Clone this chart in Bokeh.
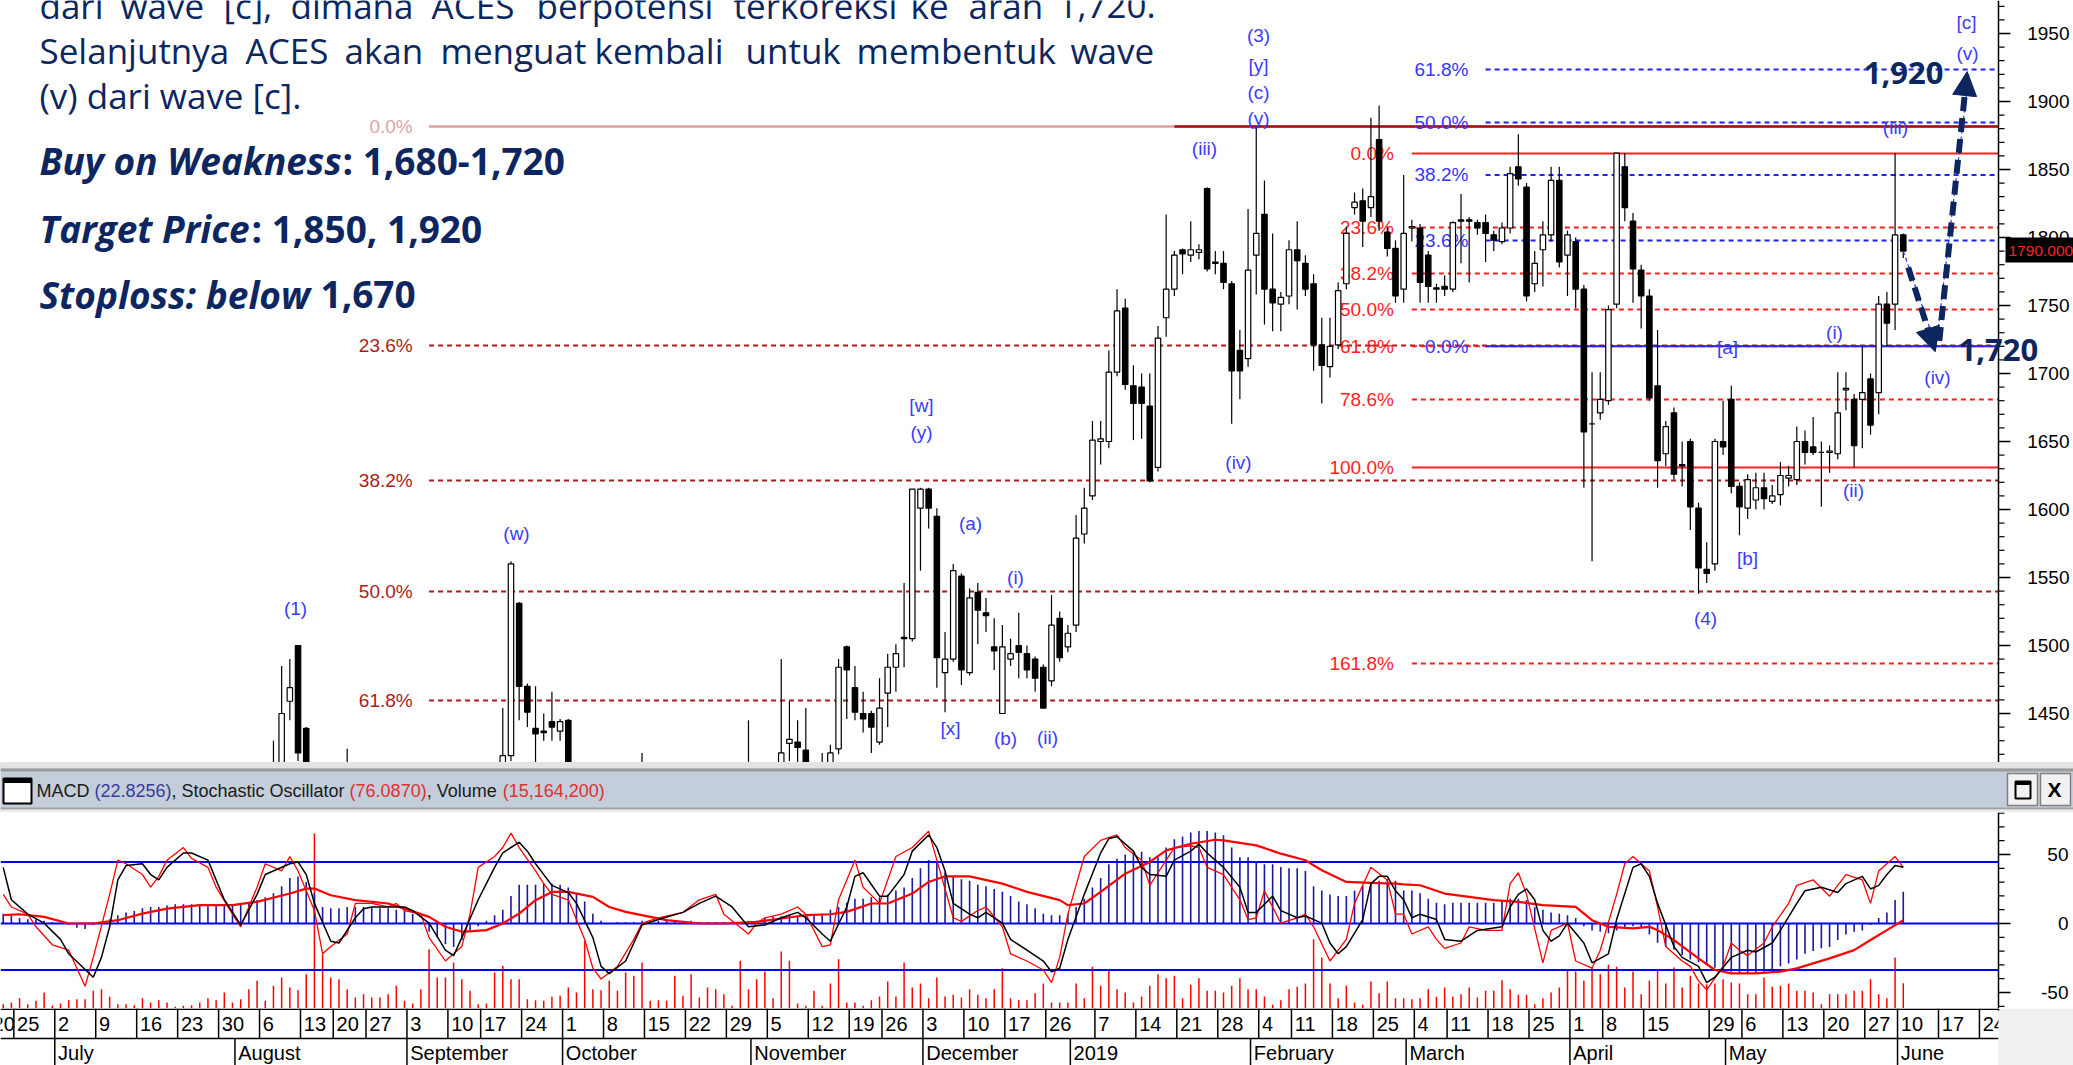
import pandas as pd
from bokeh.plotting import figure
from bokeh.models import Range1d, Arrow, NormalHead
from bokeh.layouts import column
from bokeh.embed import file_html
from bokeh.resources import INLINE
from bokeh.core.properties import value

# ---------------------------------------------------------------- calendar
HOLIDAYS = ["2018-08-17", "2018-08-22", "2018-09-11", "2018-11-20", "2018-12-24", "2018-12-25",
            "2018-12-31", "2019-01-01", "2019-02-05", "2019-03-07", "2019-04-03", "2019-04-17",
            "2019-04-19", "2019-05-01", "2019-05-30", "2019-06-03", "2019-06-04", "2019-06-05",
            "2019-06-06", "2019-06-07"]
CAL = [d.strftime("%Y-%m-%d") for d in pd.bdate_range("2018-06-20", "2019-06-28")]
CAL = [d for d in CAL if d not in HOLIDAYS]
DAY = {d: k for k, d in enumerate(CAL)}

day_ticks = ["2018-06-20", "2018-06-25", "2018-07-02", "2018-07-09", "2018-07-16", "2018-07-23",
             "2018-07-30", "2018-08-06", "2018-08-13", "2018-08-20", "2018-08-27", "2018-09-03",
             "2018-09-10", "2018-09-17", "2018-09-24", "2018-10-01", "2018-10-08", "2018-10-15",
             "2018-10-22", "2018-10-29", "2018-11-05", "2018-11-12", "2018-11-19", "2018-11-26",
             "2018-12-03", "2018-12-10", "2018-12-17", "2018-12-26", "2019-01-07", "2019-01-14",
             "2019-01-21", "2019-01-28", "2019-02-04", "2019-02-11", "2019-02-18", "2019-02-25",
             "2019-03-04", "2019-03-11", "2019-03-18", "2019-03-25", "2019-04-01", "2019-04-08",
             "2019-04-15", "2019-04-29", "2019-05-06", "2019-05-13", "2019-05-20", "2019-05-27",
             "2019-06-10", "2019-06-17", "2019-06-24"]
month_ticks = ["2018-07-02", "2018-08-01", "2018-09-03", "2018-10-01", "2018-11-01", "2018-12-03",
               "2019-01-02", "2019-02-01", "2019-03-01", "2019-04-01", "2019-05-02", "2019-06-10"]
month_names = ["July", "August", "September", "October", "November", "December", "2019",
               "February", "March", "April", "May", "June"]

# ---------------------------------------------------------------- price candles (trading-day number)
c_day = [34, 35, 36, 37, 38, 43, 62, 63, 64, 65, 66, 67, 68, 69, 70, 79, 92] + list(range(96, 234))
c_open = [1400, 1400, 1459, 1500, 1439, 1400, 1400, 1419, 1531, 1470, 1439, 1437, 1444, 1437, 1445, 1400, 1395,
          1400, 1428, 1429, 1423, 1405, 1400, 1405, 1424, 1499, 1469,
          1450, 1450, 1429, 1465, 1484, 1505, 1505, 1601, 1615, 1595,
          1480, 1490, 1551, 1480, 1539, 1524, 1499, 1450, 1490, 1500,
          1494, 1490, 1484, 1474, 1520, 1499, 1515, 1582, 1610, 1650,
          1650, 1701, 1748, 1691, 1690, 1676, 1631, 1741, 1762, 1791,
          1787, 1789, 1836, 1782, 1781, 1766, 1717, 1711, 1787, 1817,
          1762, 1751, 1757, 1791, 1781, 1766, 1721, 1705, 1721, 1766,
          1822, 1827, 1822, 1872, 1804, 1792, 1762, 1807, 1807, 1787,
          1763, 1764, 1762, 1812, 1813, 1811, 1811, 1802, 1797, 1807,
          1852, 1837, 1766, 1791, 1802, 1842, 1787, 1797, 1762, 1663,
          1671, 1680, 1751, 1852, 1812, 1776, 1757, 1691, 1641, 1671,
          1633, 1650, 1601, 1556, 1560, 1650, 1681, 1617, 1601, 1607,
          1616, 1606, 1611, 1623, 1622, 1650, 1646, 1642, 1642, 1641,
          1688, 1681, 1681, 1696, 1686, 1751, 1751, 1802]
c_high = [1430, 1485, 1490, 1500, 1440, 1424, 1454, 1562, 1532, 1472, 1470, 1450, 1466, 1446, 1446, 1421, 1445,
          1490, 1459, 1445, 1454, 1410, 1421, 1427, 1490, 1500, 1485,
          1466, 1452, 1476, 1494, 1501, 1546, 1615, 1616, 1616, 1601,
          1510, 1560, 1553, 1542, 1546, 1535, 1520, 1515, 1505, 1524,
          1500, 1492, 1486, 1537, 1525, 1515, 1596, 1616, 1665, 1665,
          1717, 1762, 1755, 1706, 1700, 1700, 1735, 1817, 1790, 1792,
          1812, 1795, 1837, 1790, 1790, 1768, 1732, 1821, 1882, 1842,
          1803, 1760, 1798, 1812, 1787, 1773, 1741, 1741, 1767, 1808,
          1833, 1836, 1888, 1897, 1808, 1798, 1846, 1813, 1810, 1790,
          1766, 1772, 1812, 1832, 1815, 1813, 1817, 1805, 1811, 1852,
          1876, 1840, 1790, 1812, 1852, 1852, 1805, 1800, 1765, 1701,
          1701, 1750, 1862, 1862, 1818, 1780, 1762, 1732, 1665, 1675,
          1650, 1652, 1605, 1576, 1652, 1680, 1691, 1620, 1626, 1627,
          1627, 1618, 1635, 1632, 1661, 1658, 1668, 1650, 1647, 1701,
          1701, 1685, 1720, 1700, 1757, 1760, 1862, 1803]
c_low = [1390, 1395, 1445, 1415, 1390, 1395, 1395, 1415, 1445, 1440, 1405, 1430, 1430, 1430, 1400, 1395, 1390,
         1395, 1415, 1410, 1400, 1395, 1395, 1400, 1420, 1446, 1445,
         1436, 1421, 1427, 1440, 1466, 1484, 1503, 1555, 1586, 1469,
         1451, 1488, 1471, 1478, 1501, 1510, 1482, 1450, 1485, 1476,
         1476, 1466, 1454, 1470, 1488, 1495, 1510, 1575, 1607, 1633,
         1645, 1698, 1688, 1651, 1652, 1620, 1628, 1727, 1757, 1773,
         1782, 1784, 1775, 1773, 1762, 1663, 1681, 1705, 1758, 1736,
         1731, 1731, 1751, 1747, 1757, 1702, 1678, 1697, 1718, 1762,
         1817, 1793, 1815, 1805, 1786, 1752, 1752, 1797, 1752, 1752,
         1752, 1757, 1760, 1781, 1767, 1802, 1782, 1790, 1795, 1803,
         1838, 1753, 1760, 1764, 1797, 1778, 1757, 1748, 1616, 1562,
         1666, 1677, 1748, 1812, 1752, 1733, 1680, 1616, 1632, 1622,
         1617, 1585, 1538, 1546, 1555, 1640, 1612, 1581, 1593, 1600,
         1600, 1604, 1603, 1617, 1618, 1633, 1640, 1602, 1627, 1637,
         1673, 1631, 1645, 1655, 1670, 1720, 1732, 1785]
c_close = [1405, 1450, 1469, 1421, 1400, 1405, 1419, 1560, 1470, 1451, 1435, 1436, 1440, 1444, 1405, 1405, 1400,
           1421, 1431, 1425, 1405, 1400, 1405, 1421, 1484, 1482, 1451,
           1446, 1440, 1454, 1484, 1494, 1506, 1615, 1615, 1601, 1491,
           1490, 1555, 1482, 1535, 1526, 1522, 1496, 1499, 1494, 1495,
           1482, 1476, 1454, 1515, 1491, 1509, 1579, 1601, 1651, 1652,
           1701, 1746, 1692, 1678, 1678, 1621, 1726, 1762, 1787, 1788,
           1791, 1791, 1777, 1781, 1767, 1702, 1702, 1776, 1803, 1762,
           1752, 1756, 1791, 1783, 1762, 1721, 1706, 1720, 1761, 1803,
           1826, 1812, 1830, 1812, 1792, 1757, 1803, 1808, 1767, 1764,
           1762, 1762, 1811, 1813, 1812, 1807, 1803, 1798, 1807, 1847,
           1843, 1757, 1781, 1802, 1842, 1782, 1802, 1762, 1657, 1663,
           1681, 1747, 1862, 1822, 1777, 1757, 1682, 1636, 1661, 1626,
           1632, 1602, 1557, 1553, 1650, 1646, 1617, 1602, 1622, 1616,
           1608, 1610, 1625, 1625, 1650, 1642, 1642, 1642, 1643, 1671,
           1689, 1647, 1686, 1662, 1751, 1737, 1802, 1790]
last_close = 1790

# ---------------------------------------------------------------- Fibonacci levels (price)
left_fib_levels = [1881.6, 1720.6, 1621.3, 1539.7, 1459.6]
left_fib_labels = ["0.0%", "23.6%", "38.2%", "50.0%", "61.8%"]
left_fib_start = 53
left_fib_top_dark_start = 144
red_fib_levels = [1861.8, 1807.4, 1773.5, 1747.0, 1720.0, 1680.9, 1630.9, 1486.8]
red_fib_labels = ["0.0%", "23.6%", "38.2%", "50.0%", "61.8%", "78.6%", "100.0%", "161.8%"]
red_fib_solid = [True, False, False, False, False, False, True, False]
red_fib_start = 173
blue_fib_levels = [1923.5, 1884.6, 1846.0, 1797.8, 1720.0]
blue_fib_labels = ["61.8%", "50.0%", "38.2%", "23.6%", "0.0%"]
blue_fib_solid = [False, False, False, False, True]
blue_fib_start = 182

# projection path: last close -> wave (iv) target -> wave (v) target
proj_day = [233, 237, 241]
proj_val = [1790, 1720, 1920]

# ---------------------------------------------------------------- indicator values
ind_day = list(range(1, 234))
macd_hist = [7, 6, 4, 3, 3, 2, 1, 0, -1, -3,
             -4, -1, 1, 3, 6, 8, 9, 11, 12, 12,
             13, 14, 14, 14, 14, 14, 14, 14, 14, 14,
             15, 17, 19, 22, 27, 33, 34, 30, 22, 12,
             11, 11, 12, 12, 12, 12, 11, 11, 10, 9,
             7, 1, -6, -10, -15, -17, -12, -5, -2, 2,
             6, 10, 20, 28, 28, 28, 29, 29, 28, 26,
             22, 16, 7, 2, 0, 1, 1, 1, 2, 2,
             2, 2, 2, 2, 2, 1, 1, 1, 1, 1,
             1, 2, 2, 4, 5, 5, 6, 6, 6, 6,
             7, 10, 12, 15, 18, 18, 19, 19, 21, 24,
             26, 33, 40, 46, 44, 37, 34, 32, 31, 28,
             27, 25, 23, 20, 16, 14, 11, 7, 6, 6,
             7, 12, 18, 26, 33, 43, 47, 50, 52, 52,
             48, 48, 55, 61, 63, 66, 67, 67, 66, 64,
             55, 48, 48, 45, 43, 43, 41, 40, 40, 38,
             27, 24, 21, 20, 20, 24, 27, 30, 31, 32,
             31, 24, 24, 22, 18, 15, 14, 15, 15, 15,
             15, 15, 15, 17, 18, 18, 17, 12, 10, 8,
             7, 6, 4, -2, -5, -6, -7, -5, -4, -2,
             -3, -8, -14, -17, -19, -23, -26, -28, -30, -32,
             -34, -35, -36, -36, -36, -35, -33, -31, -29, -26,
             -22, -20, -18, -17, -12, -8, -6, -5, -1, 4,
             8, 17, 23]
volume_m = [2.6, 3.6, 6.2, 2.6, 4.6, 9.6, 1.6, 3.0, 5.0, 5.6,
            5.6, 10.6, 11.6, 7.0, 2.6, 2.6, 2.0, 6.2, 3.6, 5.0,
            3.6, 1.0, 1.6, 2.0, 3.6, 6.2, 5.0, 9.6, 3.6, 5.6,
            11.6, 16.6, 4.6, 13.6, 18.6, 12.6, 11.0, 20.6, 105, 32.6,
            18.6, 17.6, 11.6, 6.6, 8.6, 6.6, 6.6, 8.6, 13.6, 4.6,
            3.0, 11.6, 35.6, 18.6, 18.6, 27.6, 17.6, 10.6, 2.6, 3.0,
            21.6, 25.6, 17.6, 17.6, 5.6, 5.0, 4.6, 7.0, 7.6, 12.6,
            9.6, 40.6, 11.6, 11.0, 16.6, 10.6, 21.6, 19.6, 27.6, 4.6,
            5.0, 4.6, 19.6, 7.6, 20.6, 6.6, 12.6, 11.6, 8.6, 1.6,
            28.6, 11.6, 17.6, 22.2, 6.2, 34.2, 28.6, 3.0, 1.6, 10.6,
            1.6, 15.0, 29.6, 3.6, 3.6, 1.6, 5.0, 7.2, 16.2, 7.2,
            27.6, 12.6, 15.0, 6.2, 18.6, 7.2, 8.2, 6.6, 11.6, 8.2,
            6.2, 11.6, 24.2, 6.2, 5.0, 5.0, 9.2, 15.0, 3.6, 3.6,
            3.6, 15.0, 6.2, 25.0, 13.6, 23.6, 11.6, 9.6, 3.6, 7.2,
            13.6, 20.6, 18.2, 19.6, 6.2, 14.2, 18.2, 10.6, 10.6, 9.6,
            13.6, 18.2, 11.6, 11.6, 7.2, 2.2, 5.0, 11.6, 13.0, 15.0,
            41.6, 30.6, 15.0, 6.2, 13.6, 3.6, 2.2, 16.2, 9.2, 16.2,
            6.2, 6.2, 5.6, 6.2, 11.6, 7.0, 12.6, 7.0, 8.6, 12.6,
            6.6, 10.6, 10.6, 17.0, 11.6, 8.2, 8.2, 2.6, 6.2, 9.6,
            12.6, 23.6, 22.2, 16.6, 24.6, 20.6, 26.2, 25.0, 12.6, 22.2,
            8.6, 16.6, 23.6, 15.0, 24.6, 12.6, 19.6, 15.0, 14.6, 15.0,
            17.6, 15.6, 15.0, 8.6, 8.6, 18.6, 13.0, 13.6, 15.0, 10.6,
            10.6, 9.6, 2.6, 8.6, 8.6, 8.6, 10.6, 10.6, 17.6, 8.6,
            6.2, 30.6, 15.2]
sig_day = [1, 3, 6, 9, 12, 15, 18, 21, 25, 29, 32, 36, 38, 39, 41, 44, 48, 50, 53, 55,
           57, 60, 62, 64, 66, 68, 70, 73, 75, 77, 80, 82, 86, 89, 93, 96, 99, 102, 104, 107,
           109, 112, 114, 116, 119, 123, 126, 130, 131, 133, 135, 138, 141, 143, 146, 149, 150, 154, 157, 160,
           162, 165, 168, 171, 172, 174, 177, 180, 183, 186, 189, 193, 195, 197, 200, 202, 203, 205, 208, 210,
           212, 215, 218, 220, 222, 224, 227, 229, 231, 233]
sig_val = [6.0, 6.7, 4.8, 0, 0, 2.4, 7.2, 10.8, 13.3, 13.3, 15.7, 21.7, 25.3, 25.3, 20.5, 16.9, 14.5, 10.8, 4.8, -2.4,
           -6.0, -4.8, 0, 7.2, 16.9, 22.9, 22.9, 19.3, 12.0, 8.4, 4.8, 2.4, 0, 0, 1.2, 3.6, 6.0, 6.7, 8.4, 14.5,
           14.5, 21.7, 30.1, 34.2, 34.2, 28.9, 22.9, 16.9, 13.3, 14.5, 22.9, 36.1, 44.6, 53.0, 57.8, 60.7, 60.2, 56.6, 50.6, 45.8,
           38.6, 30.1, 29.4, 28.9, 28.4, 27.7, 21.7, 19.3, 16.9, 15.7, 13.3, 12.0, 2.4, -2.4, -3.6, -2.4, -4.8, -12.0, -25.3, -33.7,
           -36.1, -36.1, -34.9, -32.5, -28.9, -25.3, -19.3, -12.0, -4.8, 2.4]
stoch_d_day = [1, 2, 4, 6, 8, 9, 12, 13, 14, 15,
               16, 18, 19, 20, 21, 23, 24, 26, 27, 28,
               30, 32, 33, 36, 37, 38, 39, 41, 42, 44,
               45, 46, 48, 50, 51, 53, 55, 56, 57, 59,
               61, 62, 64, 65, 66, 68, 70, 71, 73, 74,
               75, 77, 78, 79, 81, 84, 86, 88, 90, 92,
               94, 96, 98, 99, 101, 102, 104, 105, 106, 108,
               109, 111, 112, 114, 115, 116, 117, 119, 120, 121,
               123, 124, 126, 128, 129, 130, 131, 133, 135, 136,
               137, 139, 140, 141, 143, 144, 146, 147, 148, 150,
               152, 153, 154, 156, 157, 159, 160, 162, 163, 164,
               165, 167, 168, 169, 170, 171, 172, 173, 174, 176,
               177, 179, 181, 184, 185, 186, 187, 188, 189, 190,
               191, 192, 194, 195, 197, 198, 200, 201, 202, 203,
               205, 206, 208, 209, 210, 212, 214, 215, 217, 218,
               220, 221, 223, 225, 226, 228, 229, 230, 231, 232,
               233]
stoch_d_val = [77, 59, 51, 46, 37, 29, 16, 27, 44, 70,
               78, 79, 73, 70, 77, 85, 85, 81, 70, 59,
               45, 62, 73, 79, 80, 73, 57, 36, 35, 49,
               54, 55, 55, 55, 53, 46, 31, 28, 38, 59,
               77, 85, 91, 86, 79, 67, 63, 57, 38, 22,
               18, 25, 35, 45, 48, 52, 57, 61, 55, 44,
               45, 49, 52, 49, 40, 36, 55, 72, 74, 61,
               61, 73, 86, 95, 88, 75, 57, 51, 49, 52,
               46, 37, 31, 25, 19, 21, 37, 62, 85, 93,
               94, 86, 77, 73, 72, 81, 86, 90, 85, 77,
               66, 52, 52, 61, 53, 49, 50, 46, 35, 29,
               33, 48, 68, 72, 72, 64, 59, 49, 51, 48,
               37, 36, 42, 44, 55, 62, 65, 59, 42, 36,
               39, 46, 35, 24, 29, 48, 77, 79, 72, 57,
               33, 27, 22, 13, 16, 27, 31, 30, 35, 42,
               57, 64, 66, 63, 68, 72, 65, 67, 73, 78,
               77]
stoch_k_day = [1, 2, 4, 5, 7, 9, 11, 12, 14, 15,
               16, 18, 19, 20, 21, 23, 24, 26, 27, 29,
               30, 32, 33, 35, 36, 37, 39, 40, 41, 43,
               44, 46, 48, 49, 50, 52, 53, 55, 57, 58,
               59, 61, 62, 63, 64, 66, 67, 68, 70, 72,
               73, 74, 76, 78, 79, 81, 84, 86, 88, 89,
               92, 93, 94, 96, 98, 99, 101, 102, 103, 105,
               106, 108, 110, 112, 114, 115, 117, 118, 120, 121,
               123, 124, 126, 128, 129, 130, 131, 133, 135, 137,
               138, 140, 141, 142, 144, 146, 147, 148, 150, 152,
               153, 154, 155, 157, 159, 160, 161, 163, 165, 166,
               168, 170, 171, 172, 173, 175, 176, 177, 179, 180,
               182, 184, 185, 186, 187, 189, 190, 192, 193, 195,
               196, 198, 199, 200, 202, 203, 204, 206, 207, 208,
               209, 211, 212, 213, 214, 216, 217, 219, 220, 222,
               224, 226, 228, 229, 230, 231, 232, 233]
stoch_k_val = [62, 55, 51, 44, 34, 31, 11, 27, 62, 81,
               79, 73, 66, 72, 81, 88, 82, 77, 66, 51,
               44, 66, 79, 75, 83, 75, 53, 29, 33, 40,
               57, 57, 55, 57, 53, 51, 38, 25, 33, 51,
               77, 83, 88, 96, 88, 75, 68, 62, 59, 37,
               21, 15, 22, 37, 46, 49, 52, 59, 62, 51,
               40, 46, 49, 51, 55, 51, 33, 34, 59, 81,
               66, 57, 83, 88, 97, 81, 49, 47, 53, 55,
               44, 29, 25, 20, 13, 27, 51, 83, 92, 95,
               88, 81, 67, 74, 88, 89, 88, 77, 73, 59,
               48, 49, 64, 46, 49, 51, 44, 25, 37, 57,
               77, 70, 51, 51, 40, 44, 37, 32, 35, 44,
               42, 42, 68, 74, 62, 24, 42, 46, 25, 21,
               31, 62, 79, 83, 75, 55, 33, 25, 22, 14,
               9, 22, 35, 31, 28, 35, 44, 57, 67, 70,
               61, 73, 70, 57, 75, 79, 83, 77]
stoch_bands = [80, 20]
title_parts = ["MACD ", "(22.8256)", ", Stochastic Oscillator ", "(76.0870)", ", Volume ", "(15,164,200)"]

# ---------------------------------------------------------------- styling / layout helpers
FONT = "Liberation Sans"
SANS = "Open Sans"
NAVY = "#0D2660"
EWC = "#3B3BFF"
DRED = "#A81C1C"
RED = "#FF1E1E"
BLUE = "#1F1FFF"
FW = 2073
# Arial / Liberation Sans advance widths (1/1000 em) used to chain the title-bar texts
ARIAL_W = {" ": 278, "(": 333, ")": 333, ",": 278, ".": 278, "M": 833, "A": 667, "C": 722, "D": 722,
           "S": 667, "O": 778, "V": 667, "t": 278, "o": 556, "c": 500, "h": 556, "a": 556, "s": 500,
           "i": 222, "l": 222, "r": 333, "u": 556, "m": 833, "e": 556}


def text_w(s, size):
    return sum(ARIAL_W.get(ch, 556) for ch in s) * size / 1000.0


def rx(px):        # reference-image pixel column -> trading-day coordinate
    return (px + 5.5) / 8.19


def ry(py):        # reference-image pixel row -> price coordinate
    return 1950 - (py - 33) / 1.36


def iy(py):        # reference-image pixel row -> indicator coordinate
    return (923 - py) / 1.38


def base_fix(py, size):   # compensate the renderer's alphabetic-baseline offset (about 0.35 em)
    return py - 0.35 * size


xr = Range1d(rx(0), rx(2073))
XAX = rx(1998)      # position of the right-hand value axis
TICK = 12 / 8.19
MTICK = 6 / 8.19
LABEL_RIGHT = rx(2069)

# ================================================================= PRICE PANE
p = figure(frame_width=FW, frame_height=762, x_range=xr, y_range=Range1d(ry(762), ry(0)),
           x_axis_location=None, y_axis_location=None, output_backend="svg",
           toolbar_location=None, min_border=0, outline_line_color=None,
           background_fill_color="white", border_fill_color="white")
p.grid.visible = False

# ---- left Fibonacci (dark red)
p.segment(x0=[left_fib_start], y0=[left_fib_levels[0]], x1=[XAX], y1=[left_fib_levels[0]],
          line_color="#DDA0A0", line_width=2.5)
p.segment(x0=[left_fib_top_dark_start], y0=[left_fib_levels[0]], x1=[XAX], y1=[left_fib_levels[0]],
          line_color="#A01010", line_width=2.5)
n = len(left_fib_levels) - 1
p.segment(x0=[left_fib_start] * n, y0=left_fib_levels[1:], x1=[XAX] * n, y1=left_fib_levels[1:],
          line_color=DRED, line_width=2, line_dash="5 4")
p.text(x=[left_fib_start - 2] * len(left_fib_levels), y=left_fib_levels, text=left_fib_labels,
       text_color=["#E0A3A3"] + [DRED] * n, text_font=value(FONT), text_font_size="19px",
       text_align="right", text_baseline="middle")

# ---- red Fibonacci
for lv, solid in zip(red_fib_levels, red_fib_solid):
    p.segment(x0=[red_fib_start], y0=[lv], x1=[XAX], y1=[lv], line_color=RED, line_width=2,
              line_dash="solid" if solid else "5 4")
p.text(x=[red_fib_start - 2.2] * len(red_fib_levels), y=red_fib_levels, text=red_fib_labels,
       text_color=RED, text_font=value(FONT), text_font_size="19px", text_align="right",
       text_baseline="middle")

# ---- blue Fibonacci
for lv, solid in zip(blue_fib_levels, blue_fib_solid):
    p.segment(x0=[blue_fib_start], y0=[lv], x1=[XAX], y1=[lv], line_color=BLUE, line_width=2,
              line_dash="solid" if solid else "5 4")
p.text(x=[blue_fib_start - 2.1] * len(blue_fib_levels), y=blue_fib_levels, text=blue_fib_labels,
       text_color="#3535FF", text_font=value(FONT), text_font_size="19px", text_align="right",
       text_baseline="middle")

# ---- candles
c_top = [max(o, c) for o, c in zip(c_open, c_close)]
c_bot = [min(o, c) for o, c in zip(c_open, c_close)]
c_fill = ["white" if c >= o else "black" for o, c in zip(c_open, c_close)]
p.segment(x0=c_day, y0=c_low, x1=c_day, y1=c_high, line_color="black", line_width=1.2)
p.vbar(x=c_day, width=0.66, top=c_top, bottom=c_bot, fill_color=c_fill, line_color="black",
       line_width=1.2)

# ---- Elliott wave labels
ew_text = ["(1)", "(w)", "[w]", "(y)", "(a)", "(i)", "[x]", "(b)", "(ii)", "(iii)", "(iv)",
           "(3)", "[y]", "(c)", "(y)", "(4)", "[b]", "[a]", "(i)", "(ii)", "(iii)", "(iv)", "[c]", "(v)"]
ew_px = [295, 516, 921, 921, 970, 1015, 950, 1005, 1047, 1204, 1238,
         1258, 1258, 1258, 1258, 1705, 1747, 1727, 1834, 1853, 1895, 1937, 1966, 1967]
ew_py = [608, 533, 405, 432, 523, 577, 728, 738, 737, 148, 462,
         35, 65, 92, 118, 618, 558, 347, 332, 490, 127, 377, 22, 53]
p.text(x=[rx(v) for v in ew_px], y=[ry(v) for v in ew_py], text=ew_text, text_color=EWC,
       text_font=value(FONT), text_font_size="19px", text_align="center", text_baseline="middle")

# ---- value axis (right)
pmaj = list(range(1450, 1951, 50))
pmin = [v for v in range(1420, 1971, 10) if v % 50]
p.segment(x0=[XAX], y0=[ry(762)], x1=[XAX], y1=[ry(0)], line_color="black", line_width=1.5)
p.segment(x0=[XAX] * len(pmaj), y0=pmaj, x1=[XAX + TICK] * len(pmaj), y1=pmaj, line_color="black", line_width=1.5)
p.segment(x0=[XAX] * len(pmin), y0=pmin, x1=[XAX + MTICK] * len(pmin), y1=pmin, line_color="black", line_width=1.2)
p.text(x=[LABEL_RIGHT] * len(pmaj), y=pmaj, text=[str(v) for v in pmaj], text_color="black",
       text_font=value(FONT), text_font_size="19px", text_align="right", text_baseline="middle")
p.quad(left=[rx(2005)], right=[rx(2080)], top=[ry(237)], bottom=[ry(262)], fill_color="black", line_color=None)
p.text(x=[rx(2008)], y=[last_close], text=["1790.000"], text_color="#FF2020", text_font=value(FONT),
       text_font_size="15.5px", text_align="left", text_baseline="middle")

# ---- projection (thin blue path + thick dashed arrows)
p.line(proj_day, proj_val, line_color="#3030FF", line_width=1.2, line_dash="4 3")
p.add_layout(Arrow(end=NormalHead(size=24, fill_color=NAVY, line_color=NAVY),
                   x_start=proj_day[0] + 0.6, y_start=proj_val[0] - 12,
                   x_end=proj_day[1] - 0.1, y_end=proj_val[1] - 4,
                   line_color=NAVY, line_width=6, line_dash="14 7"))
p.add_layout(Arrow(end=NormalHead(size=24, fill_color=NAVY, line_color=NAVY),
                   x_start=proj_day[1] + 0.4, y_start=proj_val[1] + 4,
                   x_end=proj_day[2] - 0.2, y_end=proj_val[2] + 2,
                   line_color=NAVY, line_width=6, line_dash="14 7"))
p.text(x=[rx(1943)], y=[ry(base_fix(83, 31))], text=["1,920"], text_color=NAVY, text_font=value(SANS),
       text_font_style="bold", text_font_size="31px", text_align="right", text_baseline="alphabetic")
p.text(x=[rx(1958)], y=[ry(base_fix(360, 31))], text=["1,720"], text_color=NAVY, text_font=value(SANS),
       text_font_style="bold", text_font_size="31px", text_align="left", text_baseline="alphabetic")

# ---- commentary text block
line1 = [("dari", 39), ("wave", 120), ("[c],", 223), ("dimana", 290), ("ACES", 431), ("berpotensi", 536),
         ("terkoreksi", 733), ("ke", 910), ("arah", 968), ("1,720.", 1057)]
line2 = [("Selanjutnya", 39), ("ACES", 245), ("akan", 344), ("menguat", 440), ("kembali", 594),
         ("untuk", 745), ("membentuk", 856), ("wave", 1070)]
for words, base in ((line1, 17), (line2, 62), ([("(v) dari wave [c].", 39)], 107)):
    p.text(x=[rx(px) for _, px in words], y=[ry(base_fix(base, 35))] * len(words), text=[w for w, _ in words],
           text_color=NAVY, text_font=value(SANS), text_font_size="35px", text_align="left",
           text_baseline="alphabetic")
bold_lines = [("Buy on Weakness", 39, 173, "bold italic"), (": 1,680-1,720", 342, 173, "bold"),
              ("Target Price", 39, 241, "bold italic"), (": 1,850, 1,920", 251, 241, "bold"),
              ("Stoploss: below", 39, 307, "bold italic"), ("1,670", 320, 307, "bold")]
for txt, px, base, style in bold_lines:
    p.text(x=[rx(px)], y=[ry(base_fix(base, 37))], text=[txt], text_color=NAVY, text_font=value(SANS),
           text_font_style=style, text_font_size="37px", text_align="left", text_baseline="alphabetic")

# ================================================================= TITLE BAR
b = figure(frame_width=FW, frame_height=50, x_range=Range1d(0, 2073), y_range=Range1d(812, 762),
           x_axis_location=None, y_axis_location=None, output_backend="svg", toolbar_location=None,
           min_border=0, outline_line_color=None, background_fill_color="#C3CEDA",
           border_fill_color="#C3CEDA")
b.grid.visible = False
b.quad(left=[0, 0, 0, 0], right=[2073] * 4, top=[762, 768, 807, 809], bottom=[768, 771, 809, 812],
       fill_color=["#E3E3E3", "#9A9A9A", "#A2A2A2", "#EBEBEB"], line_color=None)
b.quad(left=[3], right=[31], top=[778], bottom=[803], fill_color="white", line_color="black", line_width=2)
b.quad(left=[3], right=[31], top=[778], bottom=[782], fill_color="black", line_color="black")
b.quad(left=[2007, 2040], right=[2037, 2070], top=[773, 773], bottom=[805, 805], fill_color="#F2F2F2",
       line_color="#808080", line_width=1.5)
b.quad(left=[2015], right=[2030], top=[781], bottom=[798], fill_color=None, line_color="black", line_width=2)
b.quad(left=[2015], right=[2030], top=[781], bottom=[784], fill_color="black", line_color="black")
b.text(x=[2054], y=[789], text=["X"], text_color="black", text_font=value(FONT), text_font_style="bold",
       text_font_size="21px", text_align="center", text_baseline="middle")
title_cols = ["#1A1A1A", "#3A3A9A", "#1A1A1A", "#E03030", "#1A1A1A", "#E03030"]
TSIZE = 18
tx = 36.0
for txt, col in zip(title_parts, title_cols):
    b.text(x=[tx], y=[790], text=[txt], text_color=col, text_font=value(FONT),
           text_font_size=f"{TSIZE}px", text_align="left", text_baseline="middle")
    tx += text_w(txt, TSIZE)

# ================================================================= INDICATOR PANE
q = figure(frame_width=FW, frame_height=196, x_range=xr, y_range=Range1d(iy(1008), iy(812)),
           x_axis_location=None, y_axis_location=None, output_backend="svg", toolbar_location=None,
           min_border=0, outline_line_color=None, background_fill_color="white",
           border_fill_color="white")
q.grid.visible = False
q.extra_y_ranges = {"stoch": Range1d((iy(1008) + 59.8) / 1.305, (iy(812) + 59.8) / 1.305),
                    "vol": Range1d(0, 117.6)}
nd = len(ind_day)
q.segment(x0=ind_day, y0=[0] * nd, x1=ind_day, y1=volume_m, y_range_name="vol",
          line_color="#FF0000", line_width=1.5)
q.segment(x0=ind_day, y0=[0] * nd, x1=ind_day, y1=macd_hist, line_color="#1A1AA0", line_width=1.6)
q.segment(x0=[xr.start] * 2, y0=stoch_bands, x1=[XAX] * 2, y1=stoch_bands, y_range_name="stoch",
          line_color="#0000FF", line_width=2)
q.segment(x0=[xr.start], y0=[0], x1=[XAX], y1=[0], line_color="#0000FF", line_width=2)
q.line(sig_day, sig_val, line_color="#FF0000", line_width=2.2)
q.line(stoch_k_day, stoch_k_val, y_range_name="stoch", line_color="#FF0000", line_width=1.3)
q.line(stoch_d_day, stoch_d_val, y_range_name="stoch", line_color="black", line_width=1.5)
qmaj = [-50, 0, 50]
qmin = [v for v in range(-60, 81, 10) if v % 50]
q.segment(x0=[XAX], y0=[iy(1008)], x1=[XAX], y1=[iy(812)], line_color="black", line_width=1.5)
q.segment(x0=[XAX] * 3, y0=qmaj, x1=[XAX + TICK] * 3, y1=qmaj, line_color="black", line_width=1.5)
q.segment(x0=[XAX] * len(qmin), y0=qmin, x1=[XAX + MTICK] * len(qmin), y1=qmin, line_color="black", line_width=1.2)
q.text(x=[rx(2068)] * 3, y=qmaj, text=[str(v) for v in qmaj], text_color="black", text_font=value(FONT),
       text_font_size="19px", text_align="right", text_baseline="middle")

# ================================================================= DATE STRIP
d = figure(frame_width=FW, frame_height=57, x_range=xr, y_range=Range1d(1065, 1008),
           x_axis_location=None, y_axis_location=None, output_backend="svg", toolbar_location=None,
           min_border=0, outline_line_color=None, background_fill_color="white",
           border_fill_color="white")
d.grid.visible = False
d.segment(x0=[xr.start, xr.start], y0=[1008.7, 1038], x1=[XAX, XAX], y1=[1008.7, 1038], line_color="black",
          line_width=1.5)
dx = [DAY[t] - 0.7 for t in day_ticks]
d.segment(x0=dx, y0=[1008] * len(dx), x1=dx, y1=[1038] * len(dx), line_color="black", line_width=1.5)
d.text(x=[v + 0.4 for v in dx], y=[1023] * len(dx), text=[str(int(t[-2:])) for t in day_ticks],
       text_color="black", text_font=value(FONT), text_font_size="20px", text_align="left",
       text_baseline="middle")
mx = [DAY[t] - 0.7 for t in month_ticks]
d.segment(x0=mx, y0=[1038] * len(mx), x1=mx, y1=[1065] * len(mx), line_color="black", line_width=1.5)
d.text(x=[v + 0.4 for v in mx], y=[1052] * len(mx), text=month_names, text_color="black",
       text_font=value(FONT), text_font_size="20px", text_align="left", text_baseline="middle")
d.quad(left=[XAX], right=[rx(2080)], top=[1008], bottom=[1070], fill_color="#F0F0F0", line_color=None)
d.segment(x0=[XAX], y0=[1008], x1=[XAX], y1=[1010], line_color="black", line_width=1.5)

layout = column(p, b, q, d, spacing=0)
open("out.html", "w").write(file_html(layout, INLINE, "ACES"))
